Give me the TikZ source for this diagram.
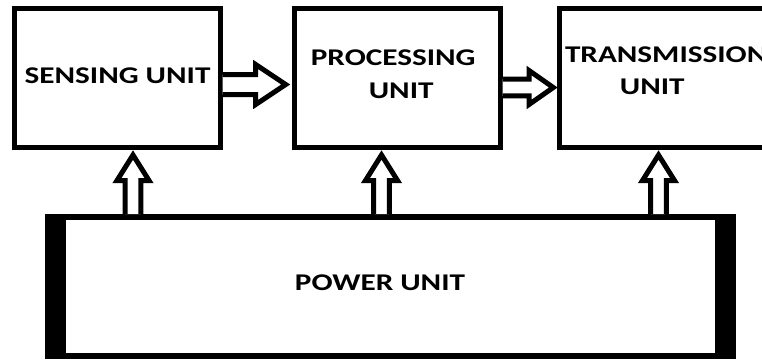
\documentclass[tikz,border=0pt]{standalone}
\usepackage{fontspec}
\setmainfont{Carlito}[FakeStretch=1.3]
\usetikzlibrary{calc}
\tikzset{
  unitbox/.style={draw=black, line width=5pt, fill=white, inner sep=0pt,
    minimum width=206pt, minimum height=139pt},
  powerbox/.style={draw=black, line width=6pt, fill=white, inner sep=0pt,
    minimum width=685pt, minimum height=139pt},
  lbl/.style={inner sep=0pt, anchor=base, text=black,
    font=\fontsize{24}{29}\selectfont\bfseries},
  arrowbase/.style={draw=black, line width=5pt, fill=white, line join=miter},
  harrow/.style n args={3}{arrowbase, to path={
    let \p1=(\tikztostart), \p2=(\tikztotarget) in
    (\x1,\y1+#1) -- (\x2-#3,\y1+#1) -- (\x2-#3,\y1+#2) -- (\x2,\y1)
    -- (\x2-#3,\y1-#2) -- (\x2-#3,\y1-#1) -- (\x1,\y1-#1)}},
  varrow/.style n args={3}{arrowbase, to path={
    let \p1=(\tikztostart), \p2=(\tikztotarget) in
    (\x2+#1,\y1) -- (\x2+#1,\y2-#3) -- (\x2+#2,\y2-#3) -- (\x2,\y2)
    -- (\x2-#2,\y2-#3) -- (\x2-#1,\y2-#3) -- (\x2-#1,\y1)}}
}
\begin{document}
\begin{tikzpicture}[x=1pt, y=-1pt]
\useasboundingbox (0,0) rectangle (762,359);
\clip (0,0) rectangle (762,359);
\fill[white] (0,0) rectangle (762,359);

% boxes
\node[unitbox] (s) at (117,78) {};
\node[unitbox] (p) at (397.2,78) {};
\node[unitbox] (t) at (662.8,78) {};
\node[powerbox] (pw) at (390.5,286.5) {};
\fill[black] (pw.north west) rectangle ($(pw.south west)+(20.5,0)$);
\fill[black] ($(pw.north east)+(-21,0)$) rectangle (pw.south east);

% labels
\node[lbl] (sl) at ($(s.center)+(0.5,5)$) {SENSING UNIT};
\node[lbl] (pl1) at ($(p.center)+(-4,-13)$) {PROCESSING};
\node[lbl] (pl2) at ($(p.center)+(4,20)$) {UNIT};
\node[lbl, anchor=base west] (tl1) at ($(t.west)+(7.5,-16)$) {TRANSMISSION};
\node[lbl] (tl2) at ($(t.center)+(-10.5,16)$) {UNIT};
\node[lbl] (pwl) at ($(pw.center)+(-10.5,3.5)$) {POWER UNIT};

% horizontal block arrows
\draw[harrow={10}{20}{30}] ($(s.east)+(0,6.5)$) to ($(p.west)+(-6,6.5)$);
\draw[harrow={8.3}{17}{24.3}] ($(p.east)+(0,9.5)$) to ($(t.west)+(-4,9.5)$);

% vertical block arrows
\draw[varrow={7.8}{16}{25.5}] (pw.north) to ($(s.south)+(16,5)$);
\draw[varrow={7.8}{16}{25.5}] (pw.north) to ($(p.south)+(-15.7,5)$);
\draw[varrow={7.8}{16}{25.5}] (pw.north) to ($(t.south)+(-4.3,5)$);
\end{tikzpicture}
\end{document}
